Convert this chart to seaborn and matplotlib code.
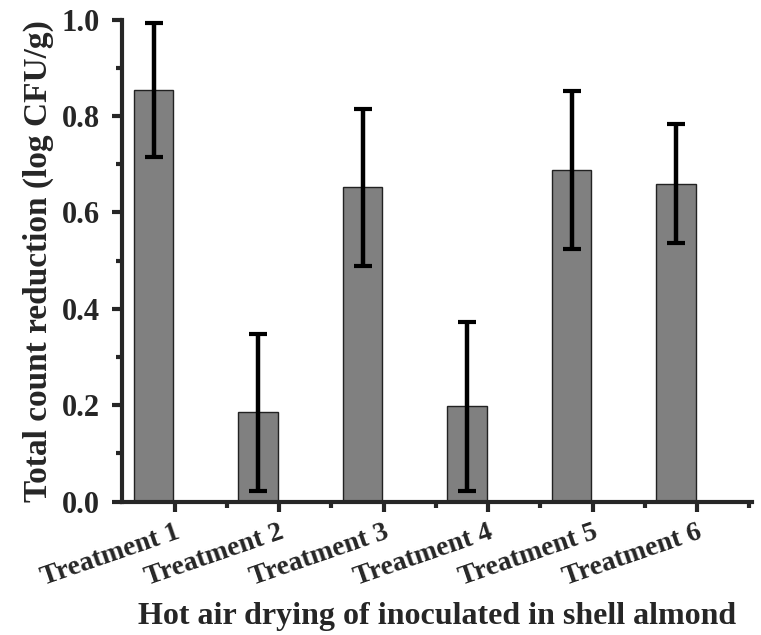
import matplotlib
matplotlib.use("Agg")
import matplotlib.pyplot as plt
import seaborn as sns
import pandas as pd
import numpy as np
from matplotlib.ticker import MultipleLocator, FixedLocator

categories = ["Treatment 1", "Treatment 2", "Treatment 3", "Treatment 4", "Treatment 5", "Treatment 6"]
means = [0.855, 0.185, 0.652, 0.198, 0.689, 0.660]
errors = [0.139, 0.163, 0.163, 0.175, 0.164, 0.123]

df = pd.DataFrame({"treatment": categories, "reduction": means})

sns.set_style("ticks")
plt.rcParams['font.family'] = ['Liberation Serif', 'DejaVu Serif']
plt.rcParams['font.weight'] = 'bold'

fig = plt.figure(figsize=(7.61, 6.35), dpi=100)
ax = fig.add_axes([0.160, 0.210, 0.828, 0.759])

sns.barplot(data=df, x="treatment", y="reduction", ax=ax, color="#808080",
            edgecolor="#222222", linewidth=1.0, width=0.38, saturation=1)
pos = np.arange(len(categories))
ax.errorbar(pos, means, yerr=errors, fmt="none", ecolor="black",
            elinewidth=3.2, capsize=6.5, capthick=3, zorder=5)

ax.set_ylim(0, 1.0)
ax.set_xlim(-0.305, 5.725)
ax.set_yticks([0.0, 0.2, 0.4, 0.6, 0.8, 1.0])
ax.yaxis.set_minor_locator(MultipleLocator(0.1))
ax.set_yticklabels(["0.0", "0.2", "0.4", "0.6", "0.8", "1.0"], fontsize=22, fontweight='bold')
ax.set_xticks(pos + 0.20)
ax.set_xticklabels(categories, rotation=19, ha='right', rotation_mode='anchor',
                   fontsize=20, fontweight='bold')
ax.xaxis.set_minor_locator(FixedLocator(pos + 0.70))

ax.tick_params(axis='both', which='major', direction='out', length=7, width=3)
ax.tick_params(axis='y', which='major', pad=9)
ax.tick_params(axis='x', which='major', pad=6)
ax.tick_params(axis='both', which='minor', direction='out', length=4, width=3)

for s in ['top', 'right']:
    ax.spines[s].set_visible(False)
for s in ['left', 'bottom']:
    ax.spines[s].set_linewidth(3)

ax.set_ylabel("Total count reduction (log CFU/g)", fontsize=24, fontweight='bold', labelpad=5)
ax.set_xlabel("Hot air drying of inoculated in shell almond", fontsize=23, fontweight='bold', labelpad=8)

fig.savefig("out.png", dpi=100)
